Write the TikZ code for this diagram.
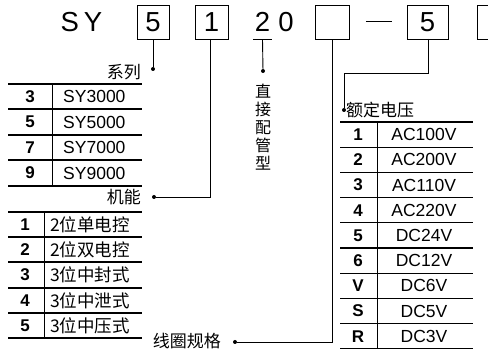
\documentclass[tikz,border=0pt]{standalone}
\usepackage{fontspec}
\setmainfont{Liberation Sans}
\newfontfamily\cjk{Noto Sans CJK SC}
\begin{document}
\begin{tikzpicture}[x=1pt,y=-1pt,
  codebox/.style={draw,line width=0.9pt,inner sep=0pt,minimum height=34pt,font=\fontsize{27.5}{29}\selectfont},
  big/.style={inner sep=0pt,font=\fontsize{27.5}{29}\selectfont},
  conn/.style={line width=0.9pt},
  tline/.style={line width=1.2pt},
  dotc/.style={circle,fill,inner sep=0pt,minimum size=4pt},
  cjklbl/.style={inner sep=0pt,font=\cjk\fontsize{17}{18}\selectfont},
  vlbl/.style={inner sep=0pt,font=\cjk\fontsize{16}{18}\selectfont},
  num/.style={inner sep=0pt,font=\bfseries\fontsize{17}{19}\selectfont},
  val/.style={inner sep=0pt,font=\fontsize{17.5}{19}\selectfont},
  cval/.style={inner sep=0pt,font=\cjk\fontsize{17.5}{19}\selectfont}]
\useasboundingbox (0,0) rectangle (488,352);
% top row
\node[big] (sy) at (81.5,22) {S\hspace{5pt}Y};
\node[codebox,minimum width=32pt] (b1) at (153,22) {5};
\node[codebox,minimum width=33pt] (b2) at (211.5,22) {1};
\node[big,minimum width=19pt,minimum height=34pt] (two) at (262.5,22) {2};
\node[big] (zero) at (286,22) {0};
\node[codebox,minimum width=34pt] (b3) at (332,22) {};
\node[inner sep=0pt,minimum width=26pt] (dash) at (379,21) {};
\draw[conn] (dash.west) -- (dash.east);
\node[codebox,minimum width=41pt] (b4) at (427.5,22) {5};
\node[codebox,minimum width=34pt] (b5) at (494,22) {};
\draw[conn] (two.south west) -- (two.south east);
% connectors
\node[dotc] (d1) at (153,69) {};
\draw[conn] (b1.south) -- (d1);
\node[dotc] (d2) at (154,197) {};
\coordinate (c2) at (210,197);
\draw[conn] (210,39) -- (c2) -- (d2);
\node[dotc] (d3) at (263,71) {};
\draw[conn] (two.south) -- (d3);
\node[dotc] (d4) at (235,342) {};
\coordinate (c4) at (332,342);
\draw[conn] (b3.south) -- (c4) -- (d4);
\node[dotc] (d5) at (344,110) {};
\coordinate (c5a) at (428,73);
\coordinate (c5b) at (344,73);
\draw[conn] (428,39) -- (c5a) -- (c5b) -- (d5);
% labels
\node[cjklbl,anchor=east] (l1) at (141,72) {系列};
\node[cjklbl,anchor=east] (l2) at (141,197) {机能};
\node[vlbl,align=center] (l3) at (263,127) {直\\接\\配\\管\\型};
\node[cjklbl,anchor=east] (l4) at (221,341) {线圈规格};
\node[cjklbl,anchor=west] (l5) at (346,110) {额定电压};
% series table
\foreach \y in {84,109,135,160,186} \draw[tline] (8,\y) -- (142,\y);
\draw[conn] (52,84) -- (52,186);
\foreach \n/\v/\y in {3/SY3000/96.5,5/SY5000/122,7/SY7000/147.5,9/SY9000/173}{
  \node[num] at (30,\y) {\n};
  \node[val,anchor=west] at (63,\y) {\v};
}
% function table
\foreach \y in {212,237,262,288,313,338} \draw[tline] (8,\y) -- (142,\y);
\draw[conn] (44,212) -- (44,338);
\foreach \n/\v/\y in {1/2位单电控/224.5,2/2位双电控/249.5,3/3位中封式/275,4/3位中泄式/300.5,5/3位中压式/325.5}{
  \node[num] at (25,\y) {\n};
  \node[cval,anchor=west] at (50,\y) {\v};
}
% voltage table
\foreach \k in {0,...,9} \draw[tline] (340,122+25.2*\k) -- (473,122+25.2*\k);
\draw[conn] (377,122) -- (377,348.8);
\foreach \n/\v [count=\i from 0] in {1/AC100V,2/AC200V,3/AC110V,4/AC220V,5/DC24V,6/DC12V,V/DC6V,S/DC5V,R/DC3V}{
  \node[num] at (358,134.6+25.2*\i) {\n};
  \node[val] at (424,134.6+25.2*\i) {\v};
}
\end{tikzpicture}
\end{document}
